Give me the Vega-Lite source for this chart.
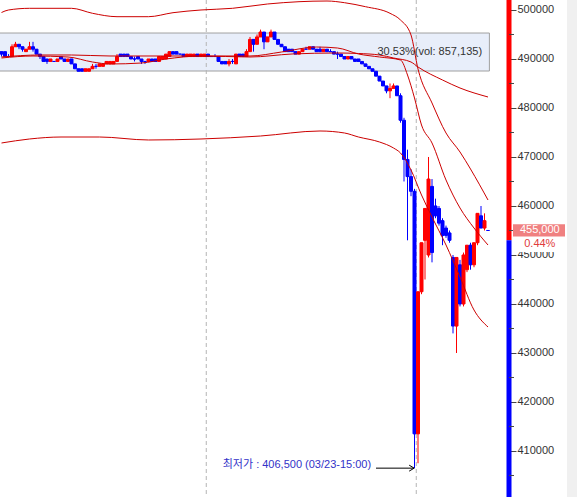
{
"$schema": "https://vega.github.io/schema/vega-lite/v6.json",
"width": 509, "height": 497,
"autosize": {"type": "none"},
"padding": {"left": 0, "top": 0, "right": 68, "bottom": 0},
"background": "white",
"config": {"view": {"stroke": null}, "axisX": {"disable": true}, "font": "Liberation Sans"},
"datasets": {
"k": [
{"t":0,"o":491500,"h":491500,"l":490500,"c":491000},
{"t":1,"o":491500,"h":491500,"l":490500,"c":490500},
{"t":2,"o":490500,"h":491000,"l":490500,"c":490500},
{"t":3,"o":490500,"h":493000,"l":490500,"c":492500},
{"t":4,"o":492500,"h":493500,"l":492500,"c":493000},
{"t":5,"o":493000,"h":493000,"l":492000,"c":492500},
{"t":6,"o":492500,"h":492500,"l":491500,"c":492000},
{"t":7,"o":491500,"h":492000,"l":491500,"c":492000},
{"t":8,"o":492000,"h":493500,"l":492000,"c":492500},
{"t":9,"o":492500,"h":493500,"l":491500,"c":492000},
{"t":10,"o":492000,"h":492000,"l":491000,"c":491000},
{"t":11,"o":491000,"h":491000,"l":490000,"c":490500},
{"t":12,"o":490500,"h":490500,"l":489500,"c":489500},
{"t":13,"o":490000,"h":490000,"l":489000,"c":489500},
{"t":14,"o":489500,"h":490000,"l":489500,"c":490000},
{"t":15,"o":489500,"h":489500,"l":489500,"c":489500},
{"t":16,"o":489500,"h":490000,"l":489500,"c":490000},
{"t":17,"o":490500,"h":490500,"l":490000,"c":490000},
{"t":18,"o":490000,"h":490000,"l":489500,"c":489500},
{"t":19,"o":489500,"h":490000,"l":489500,"c":490000},
{"t":20,"o":490000,"h":490000,"l":489000,"c":489000},
{"t":21,"o":489000,"h":489000,"l":488000,"c":488000},
{"t":22,"o":488000,"h":488000,"l":487500,"c":487500},
{"t":23,"o":488000,"h":488000,"l":487500,"c":487500},
{"t":24,"o":487500,"h":488000,"l":487500,"c":488000},
{"t":25,"o":487500,"h":488000,"l":487500,"c":488000},
{"t":26,"o":488000,"h":489000,"l":488000,"c":488500},
{"t":27,"o":488500,"h":489000,"l":488000,"c":488500},
{"t":28,"o":488500,"h":489000,"l":488500,"c":489000},
{"t":29,"o":488500,"h":489000,"l":488500,"c":489000},
{"t":30,"o":489000,"h":489500,"l":489000,"c":489500},
{"t":31,"o":489000,"h":489500,"l":489000,"c":489500},
{"t":32,"o":489000,"h":489500,"l":489000,"c":489500},
{"t":33,"o":489500,"h":491000,"l":489500,"c":490500},
{"t":34,"o":491000,"h":491000,"l":490500,"c":490500},
{"t":35,"o":491000,"h":491000,"l":490500,"c":490500},
{"t":36,"o":491000,"h":491000,"l":490500,"c":490500},
{"t":37,"o":490500,"h":490500,"l":490000,"c":490000},
{"t":38,"o":490000,"h":490500,"l":489500,"c":490000},
{"t":39,"o":490500,"h":490500,"l":490000,"c":490000},
{"t":40,"o":490000,"h":490000,"l":489000,"c":489500},
{"t":41,"o":489500,"h":489500,"l":489000,"c":489500},
{"t":42,"o":489500,"h":490000,"l":489500,"c":490000},
{"t":43,"o":490000,"h":490000,"l":489500,"c":489500},
{"t":44,"o":490000,"h":490000,"l":489500,"c":489500},
{"t":45,"o":489500,"h":490500,"l":489500,"c":490500},
{"t":46,"o":490000,"h":490500,"l":490000,"c":490500},
{"t":47,"o":490000,"h":491000,"l":490000,"c":491000},
{"t":48,"o":490500,"h":491500,"l":490500,"c":491500},
{"t":49,"o":491500,"h":491500,"l":491000,"c":491000},
{"t":50,"o":491500,"h":491500,"l":491000,"c":491000},
{"t":51,"o":491000,"h":491000,"l":491000,"c":491000},
{"t":52,"o":491000,"h":491000,"l":490500,"c":490500},
{"t":53,"o":490500,"h":491000,"l":490500,"c":491000},
{"t":54,"o":490500,"h":491000,"l":490500,"c":491000},
{"t":55,"o":490500,"h":491000,"l":490500,"c":491000},
{"t":56,"o":491000,"h":491000,"l":490500,"c":490500},
{"t":57,"o":490500,"h":491000,"l":490500,"c":491000},
{"t":58,"o":490500,"h":491000,"l":490500,"c":491000},
{"t":59,"o":491000,"h":491000,"l":490500,"c":490500},
{"t":60,"o":490500,"h":490500,"l":490500,"c":490500},
{"t":61,"o":490500,"h":491000,"l":490500,"c":490500},
{"t":62,"o":490500,"h":490500,"l":489500,"c":489500},
{"t":63,"o":489500,"h":489500,"l":489000,"c":489000},
{"t":64,"o":489500,"h":489500,"l":489000,"c":489000},
{"t":65,"o":489000,"h":490000,"l":488500,"c":489500},
{"t":66,"o":489500,"h":490000,"l":489000,"c":489500},
{"t":67,"o":489000,"h":491000,"l":489000,"c":491000},
{"t":68,"o":491000,"h":491000,"l":490500,"c":490500},
{"t":69,"o":491000,"h":491000,"l":490500,"c":490500},
{"t":70,"o":490500,"h":492000,"l":490500,"c":491500},
{"t":71,"o":491500,"h":494500,"l":491500,"c":494000},
{"t":72,"o":494000,"h":494000,"l":491500,"c":493000},
{"t":73,"o":493000,"h":495000,"l":493000,"c":494500},
{"t":74,"o":494500,"h":496000,"l":494500,"c":495500},
{"t":75,"o":495500,"h":495500,"l":492000,"c":493500},
{"t":76,"o":493500,"h":494500,"l":493500,"c":494500},
{"t":77,"o":494500,"h":496000,"l":494500,"c":495500},
{"t":78,"o":495500,"h":495500,"l":494000,"c":494000},
{"t":79,"o":494000,"h":494000,"l":493000,"c":493000},
{"t":80,"o":493000,"h":493000,"l":492500,"c":492500},
{"t":81,"o":492500,"h":492500,"l":491500,"c":491500},
{"t":82,"o":492000,"h":492000,"l":491500,"c":491500},
{"t":83,"o":492000,"h":492000,"l":491500,"c":491500},
{"t":84,"o":491500,"h":491500,"l":491000,"c":491000},
{"t":85,"o":491000,"h":491500,"l":491000,"c":491500},
{"t":86,"o":491500,"h":492000,"l":491500,"c":492000},
{"t":87,"o":492000,"h":492500,"l":492000,"c":492000},
{"t":88,"o":492000,"h":492500,"l":492000,"c":492500},
{"t":89,"o":492500,"h":492500,"l":492000,"c":492000},
{"t":90,"o":492000,"h":492000,"l":491500,"c":491500},
{"t":91,"o":492000,"h":492500,"l":491500,"c":491500},
{"t":92,"o":491500,"h":492000,"l":491500,"c":492000},
{"t":93,"o":492000,"h":492000,"l":491500,"c":491500},
{"t":94,"o":491500,"h":492000,"l":491500,"c":491500},
{"t":95,"o":491500,"h":491500,"l":491000,"c":491000},
{"t":96,"o":491000,"h":491500,"l":490000,"c":491000},
{"t":97,"o":491000,"h":491000,"l":490500,"c":490500},
{"t":98,"o":490500,"h":490500,"l":490000,"c":490000},
{"t":99,"o":490000,"h":490500,"l":490000,"c":490500},
{"t":100,"o":490500,"h":490500,"l":490000,"c":490000},
{"t":101,"o":490000,"h":490000,"l":489500,"c":489500},
{"t":102,"o":490000,"h":490000,"l":489500,"c":489500},
{"t":103,"o":489500,"h":489500,"l":489000,"c":489000},
{"t":104,"o":489000,"h":489000,"l":488500,"c":488500},
{"t":105,"o":488500,"h":488500,"l":488000,"c":488000},
{"t":106,"o":488000,"h":488000,"l":487500,"c":487500},
{"t":107,"o":487500,"h":487500,"l":486500,"c":486500},
{"t":108,"o":486500,"h":486500,"l":485500,"c":485500},
{"t":109,"o":485500,"h":485500,"l":484500,"c":484500},
{"t":110,"o":484500,"h":484500,"l":483000,"c":483500},
{"t":111,"o":483500,"h":485000,"l":482000,"c":484000},
{"t":112,"o":484000,"h":485000,"l":484000,"c":484500},
{"t":113,"o":484500,"h":484500,"l":482500,"c":482500},
{"t":114,"o":482500,"h":483000,"l":477000,"c":477500},
{"t":115,"o":477500,"h":478000,"l":465000,"c":469500},
{"t":116,"o":469500,"h":471500,"l":453000,"c":466000},
{"t":117,"o":466000,"h":467500,"l":462000,"c":463000},
{"t":118,"o":463000,"h":463500,"l":406500,"c":413500},
{"t":119,"o":413500,"h":442500,"l":407500,"c":442500},
{"t":120,"o":442500,"h":452500,"l":442000,"c":452500},
{"t":121,"o":453000,"h":459500,"l":445000,"c":459500},
{"t":122,"o":450000,"h":470000,"l":449500,"c":465500},
{"t":123,"o":464000,"h":465500,"l":448500,"c":450500},
{"t":124,"o":460000,"h":461500,"l":457500,"c":458000},
{"t":125,"o":459500,"h":460000,"l":456000,"c":456500},
{"t":126,"o":457000,"h":457500,"l":452000,"c":454000},
{"t":127,"o":455500,"h":456000,"l":453500,"c":454000},
{"t":128,"o":454500,"h":455000,"l":452500,"c":453000},
{"t":129,"o":449500,"h":450000,"l":434000,"c":435500},
{"t":130,"o":435500,"h":449500,"l":430000,"c":449500},
{"t":131,"o":448000,"h":449000,"l":439500,"c":440000},
{"t":132,"o":440000,"h":450500,"l":439500,"c":450000},
{"t":133,"o":447000,"h":452000,"l":446500,"c":452000},
{"t":134,"o":452000,"h":452500,"l":447000,"c":448000},
{"t":135,"o":448000,"h":452500,"l":447500,"c":452500},
{"t":136,"o":452500,"h":458500,"l":452000,"c":458500},
{"t":137,"o":458000,"h":460000,"l":455500,"c":455500},
{"t":138,"o":455500,"h":458500,"l":455000,"c":457000},
{"t":139,"o":455000,"h":455000,"l":455000,"c":455000}
],
"b": [
{"s":"u","t":0,"v":499489},{"s":"u","t":2,"v":500000},{"s":"u","t":8,"v":500346},{"s":"u","t":20,"v":500346},{"s":"u","t":26,"v":499326},{"s":"u","t":33,"v":498632},{"s":"u","t":42,"v":498632},{"s":"u","t":49,"v":499448},{"s":"u","t":57,"v":500000},{"s":"u","t":66,"v":500346},{"s":"u","t":76,"v":501224},{"s":"u","t":85,"v":501693},{"s":"u","t":93,"v":501836},{"s":"u","t":98,"v":501489},{"s":"u","t":104,"v":500673},{"s":"u","t":111,"v":499326},{"s":"u","t":114,"v":497958},{"s":"u","t":117,"v":494900},{"s":"u","t":119,"v":487960},{"s":"u","t":123,"v":481020},{"s":"u","t":127,"v":474898},{"s":"u","t":131,"v":471020},{"s":"u","t":134,"v":467551},{"s":"u","t":139,"v":461224},
{"s":"m60","t":0,"v":490408},{"s":"m60","t":11,"v":490816},{"s":"m60","t":20,"v":490816},{"s":"m60","t":31,"v":490612},{"s":"m60","t":57,"v":490612},{"s":"m60","t":71,"v":490408},{"s":"m60","t":83,"v":491020},{"s":"m60","t":96,"v":491224},{"s":"m60","t":102,"v":491122},{"s":"m60","t":108,"v":490816},{"s":"m60","t":112,"v":490204},{"s":"m60","t":117,"v":489387},{"s":"m60","t":119,"v":488367},{"s":"m60","t":126,"v":485714},{"s":"m60","t":131,"v":484081},{"s":"m60","t":139,"v":482245},
{"s":"m20","t":0,"v":490204},{"s":"m20","t":9,"v":490612},{"s":"m20","t":19,"v":490408},{"s":"m20","t":26,"v":489387},{"s":"m20","t":31,"v":488979},{"s":"m20","t":40,"v":489183},{"s":"m20","t":47,"v":490000},{"s":"m20","t":57,"v":490612},{"s":"m20","t":71,"v":490612},{"s":"m20","t":80,"v":491428},{"s":"m20","t":90,"v":492448},{"s":"m20","t":96,"v":492244},{"s":"m20","t":102,"v":491020},{"s":"m20","t":108,"v":490408},{"s":"m20","t":114,"v":489796},{"s":"m20","t":116,"v":486734},{"s":"m20","t":118,"v":482040},{"s":"m20","t":120,"v":476530},{"s":"m20","t":123,"v":472857},{"s":"m20","t":127,"v":465306},{"s":"m20","t":131,"v":459592},{"s":"m20","t":135,"v":455510},{"s":"m20","t":139,"v":452040},
{"s":"lo","t":0,"v":472857},{"s":"lo","t":8,"v":473673},{"s":"lo","t":17,"v":474081},{"s":"lo","t":28,"v":474081},{"s":"lo","t":42,"v":473469},{"s":"lo","t":57,"v":473673},{"s":"lo","t":74,"v":474285},{"s":"lo","t":91,"v":475306},{"s":"lo","t":98,"v":474898},{"s":"lo","t":102,"v":474081},{"s":"lo","t":108,"v":473061},{"s":"lo","t":112,"v":471837},{"s":"lo","t":114,"v":470816},{"s":"lo","t":117,"v":467347},{"s":"lo","t":120,"v":462245},{"s":"lo","t":123,"v":457755},{"s":"lo","t":127,"v":452040},{"s":"lo","t":131,"v":445510},{"s":"lo","t":135,"v":438776},{"s":"lo","t":139,"v":435306}
],
"minor": [{"p":405000},{"p":415000},{"p":425000},{"p":435000},{"p":445000},{"p":455000},{"p":465000},{"p":475000},{"p":485000},{"p":495000}]
},
"layer": [
{"data": {"values": [{}]}, "mark": {"type": "rect", "color": "#f0f0f0"},
 "encoding": {"x": {"datum": 161.57, "type": "quantitative"}, "x2": {"datum": 170}, "y": {"datum": 400612, "type": "quantitative"}, "y2": {"datum": 502040}}},
{"data": {"values": [{}]}, "mark": {"type": "rect", "fill": "#e8eefa", "stroke": "#a0a0a0", "strokeWidth": 1},
 "encoding": {"x": {"datum": -1, "type": "quantitative"}, "x2": {"datum": 139.4}, "y": {"datum": 487550, "type": "quantitative"}, "y2": {"datum": 495300}}},
{"data": {"values": [{"g": 58.5}, {"g": 118.5}]}, "mark": {"type": "rule", "color": "#b4b4b4", "strokeDash": [4, 3], "strokeWidth": 1},
 "encoding": {"x": {"field": "g", "type": "quantitative"}}},
{"data": {"name": "k"}, "mark": {"type": "rule", "strokeWidth": 1},
 "encoding": {
  "x": {"field": "t", "type": "quantitative", "scale": {"domain": [-0.4286, 145], "nice": false, "zero": false, "padding": 0}, "axis": null},
  "y": {"field": "l", "type": "quantitative", "scale": {"domain": [400612, 502040], "nice": false, "zero": false, "padding": 0},
   "axis": {"orient": "right", "title": null, "values": [400000,410000,420000,430000,440000,450000,460000,470000,480000,490000,500000],
    "format": "d", "domain": false, "grid": false, "ticks": true,
    "tickColor": "#444", "tickWidth": 1, "tickSize": 7,
    "labelPadding": 1, "labelFont": "Liberation Sans", "labelFontSize": 11, "labelColor": "#333", "labelBound": false, "labelOverlap": false}},
  "y2": {"field": "h"},
  "color": {"condition": {"test": "datum.c > datum.o", "value": "#ff0000"}, "value": "#0000ff"}}},
{"data": {"name": "k"}, "mark": {"type": "bar", "size": 3, "strokeWidth": 1},
 "encoding": {
  "x": {"field": "t", "type": "quantitative"},
  "y": {"field": "o", "type": "quantitative"},
  "y2": {"field": "c"},
  "fill": {"condition": {"test": "datum.c > datum.o", "value": "#ff0000"}, "value": "#0000ff"},
  "stroke": {"condition": {"test": "datum.c > datum.o", "value": "#ff0000"}, "value": "#0000ff"}}},
{"data": {"name": "b"}, "mark": {"type": "line", "interpolate": "monotone", "strokeWidth": 1, "color": "#cc0000"},
 "encoding": {"x": {"field": "t", "type": "quantitative"}, "y": {"field": "v", "type": "quantitative"}, "detail": {"field": "s"}}},
{"data": {"values": [{}]}, "mark": {"type": "text", "text": "30.53%(vol: 857,135)", "align": "right", "baseline": "middle", "font": "Liberation Sans", "fontSize": 11, "color": "#333333"},
 "encoding": {"x": {"datum": 137.3, "type": "quantitative"}, "y": {"datum": 491400, "type": "quantitative"}}},
{"data": {"values": [{}]}, "mark": {"type": "text", "text": "최저가 : 406,500 (03/23-15:00)", "align": "right", "baseline": "middle", "dy": -3.5, "font": "Liberation Sans, Noto Sans CJK KR", "fontSize": 11, "color": "#3232c8"},
 "encoding": {"x": {"datum": 105.6, "type": "quantitative"}, "y": {"datum": 406500, "type": "quantitative"}}},
{"data": {"values": [{}]}, "mark": {"type": "rule", "color": "#000000", "strokeWidth": 1},
 "encoding": {"x": {"datum": 107, "type": "quantitative"}, "x2": {"datum": 117.9}, "y": {"datum": 406500, "type": "quantitative"}}},
{"data": {"values": [{}]}, "mark": {"type": "point", "shape": "M-1,-0.6L0,0L-1,0.6", "filled": false, "stroke": "#000000", "strokeWidth": 1, "size": 100, "opacity": 1},
 "encoding": {"x": {"datum": 117.9, "type": "quantitative"}, "y": {"datum": 406500, "type": "quantitative"}}},
{"data": {"values": [{}]}, "mark": {"type": "rule", "color": "#ff0000", "strokeWidth": 5},
 "encoding": {"x": {"datum": 145, "type": "quantitative"}, "y": {"datum": 453000, "type": "quantitative"}, "y2": {"datum": 502040}}},
{"data": {"values": [{}]}, "mark": {"type": "rule", "color": "#0000ff", "strokeWidth": 5},
 "encoding": {"x": {"datum": 145, "type": "quantitative"}, "y": {"datum": 400612, "type": "quantitative"}, "y2": {"datum": 453000}}},
{"data": {"name": "minor"}, "mark": {"type": "rule", "color": "#444444", "strokeWidth": 1},
 "encoding": {"x": {"datum": 145, "type": "quantitative"}, "x2": {"datum": 146.43}, "y": {"field": "p", "type": "quantitative"}}},
{"data": {"values": [{}]}, "mark": {"type": "rect", "color": "#f08080"},
 "encoding": {"x": {"datum": 146.14, "type": "quantitative"}, "x2": {"datum": 161}, "y": {"datum": 453750, "type": "quantitative"}, "y2": {"datum": 456300}}},
{"data": {"values": [{}]}, "mark": {"type": "text", "text": "455,000", "align": "center", "baseline": "middle", "font": "Liberation Sans", "fontSize": 11, "color": "#ffffff"},
 "encoding": {"x": {"datum": 153.8, "type": "quantitative"}, "y": {"datum": 455000, "type": "quantitative"}}},
{"data": {"values": [{}]}, "mark": {"type": "rect", "color": "#ffffff"},
 "encoding": {"x": {"datum": 146.6, "type": "quantitative"}, "x2": {"datum": 161}, "y": {"datum": 450600, "type": "quantitative"}, "y2": {"datum": 453470}}},
{"data": {"values": [{}]}, "mark": {"type": "text", "text": "0.44%", "align": "center", "baseline": "middle", "font": "Liberation Sans", "fontSize": 11, "color": "#e03c3c"},
 "encoding": {"x": {"datum": 153.8, "type": "quantitative"}, "y": {"datum": 452200, "type": "quantitative"}}}
]
}
